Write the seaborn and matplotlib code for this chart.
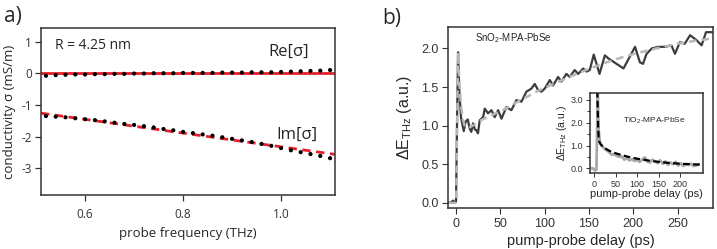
import numpy as np
import pandas as pd
import seaborn as sns
import matplotlib
matplotlib.use("Agg")
from matplotlib import pyplot as plt

# ---- panel a) : conductivity vs probe frequency
freq = [0.52, 0.54, 0.56, 0.58, 0.60, 0.62, 0.64, 0.66, 0.68, 0.70,
        0.72, 0.74, 0.76, 0.78, 0.80, 0.82, 0.84, 0.86, 0.88, 0.90,
        0.92, 0.94, 0.96, 0.98, 1.00, 1.02, 1.04, 1.06, 1.08, 1.10]
re_sigma = [-0.08, -0.06, -0.05, -0.04, -0.04, -0.03, -0.03, -0.02, -0.02, -0.01,
            -0.01, 0.00, 0.00, 0.00, 0.01, 0.01, 0.01, 0.01, 0.02, 0.02,
            0.02, 0.03, 0.03, 0.03, 0.04, 0.05, 0.06, 0.07, 0.08, 0.10]
im_sigma = [-1.35, -1.37, -1.39, -1.42, -1.45, -1.48, -1.52, -1.56, -1.60, -1.63,
            -1.67, -1.71, -1.76, -1.80, -1.85, -1.89, -1.93, -1.97, -2.02, -2.07,
            -2.12, -2.17, -2.23, -2.29, -2.36, -2.43, -2.49, -2.55, -2.61, -2.68]
re_fit_f = [0.51, 1.11]
re_fit = [0.0, 0.0]
im_fit_f = [0.51, 1.11]
im_fit = [-1.26, -2.56]

# ---- panel b) : SnO2-MPA-PbSe transient
t_sno2 = [-8, -5, -3, -1, 0.3, 1.5, 2.6, 4, 6, 9, 11, 13.5, 15.8, 17.5, 19.5, 21.5, 23.3, 25,
          27, 30.8, 32.7, 36.4, 40.2, 43.9, 47.7, 51.5, 57, 62.7, 68.3, 74, 79.6, 85.3, 89,
          92.8, 96.5, 100.3, 106, 109.6, 115.3, 119, 124.7, 128.5, 134, 138, 143.6, 147.4,
          151, 155.5, 162, 168, 172, 189, 196, 202, 207.5, 211, 215, 221, 228, 236, 243,
          247, 252.5, 258, 264, 271, 277, 282, 289]
e_sno2 = [0.00, 0.01, 0.03, 0.00, 0.02, 1.10, 1.95, 1.45, 1.10, 0.93, 1.05, 1.08, 0.96, 0.92,
          1.03, 0.95, 0.94, 0.90, 1.07, 1.11, 1.22, 1.16, 1.20, 1.11, 1.20, 1.09, 1.24, 1.20,
          1.33, 1.31, 1.44, 1.48, 1.54, 1.46, 1.44, 1.48, 1.59, 1.52, 1.63, 1.57, 1.67, 1.63,
          1.72, 1.67, 1.74, 1.70, 1.72, 1.92, 1.67, 1.91, 1.87, 1.74, 1.89, 2.02, 1.82, 1.80,
          1.93, 2.00, 2.02, 2.02, 2.04, 1.93, 2.08, 2.06, 2.17, 2.11, 2.04, 2.21, 2.21]
t_sno2_fit = [-8, 0, 0.5, 2.6, 4, 6, 8, 10, 13, 16, 22, 30, 53, 70, 91, 110, 128, 151,
              170, 189, 208, 226, 250, 270, 290]
e_sno2_fit = [0.00, 0.00, 0.00, 1.95, 1.55, 1.25, 1.08, 1.00, 0.97, 0.98, 1.02, 1.08,
              1.20, 1.31, 1.44, 1.54, 1.63, 1.74, 1.82, 1.89, 1.95, 2.00, 2.06, 2.10, 2.13]

# ---- inset : TiO2-MPA-PbSe transient
t_tio2 = [-8, -3, 2, 5, 6.5, 8, 10, 13, 17, 22, 28, 34, 40, 46, 52, 58, 64, 70, 76, 82, 88,
          94, 100, 106, 112, 118, 124, 130, 136, 142, 148, 154, 160, 166, 172, 178, 184, 190,
          196, 202, 208, 214, 220, 226, 232, 238, 244]
e_tio2 = [0.00, 0.00, -0.10, -0.05, 1.50, 3.40, 1.70, 1.15, 1.00, 0.90, 0.80, 0.72, 0.60,
          0.62, 0.55, 0.50, 0.52, 0.38, 0.45, 0.35, 0.40, 0.32, 0.36, 0.28, 0.38, 0.48, 0.30,
          0.25, 0.38, 0.30, 0.22, 0.35, 0.20, 0.30, 0.15, 0.25, 0.18, 0.28, 0.12, 0.22, 0.10,
          0.18, 0.15, 0.20, 0.10, 0.12, 0.18]
t_tio2_fit = [7, 8, 9, 10, 12, 15, 20, 30, 40, 60, 80, 100, 130, 160, 200, 250]
e_tio2_fit = [3.40, 2.60, 1.80, 1.40, 1.15, 1.05, 0.95, 0.82, 0.72, 0.60, 0.50, 0.42,
              0.33, 0.26, 0.20, 0.16]

sns.set_style("ticks")
plt.rcParams["font.family"] = ["Liberation Sans", "DejaVu Sans"]
plt.rcParams["mathtext.default"] = "regular"
plt.rcParams["axes.edgecolor"] = "#333333"
plt.rcParams["xtick.color"] = "#333333"
plt.rcParams["ytick.color"] = "#333333"

fig = plt.figure(figsize=(7.17, 2.49), dpi=100)
axA = fig.add_axes([0.0572, 0.217, 0.410, 0.671])
axB = fig.add_axes([0.625, 0.1635, 0.3696, 0.729])
axI = fig.add_axes([0.8229, 0.304, 0.1576, 0.321])

lf = ["Open Sans", "DejaVu Sans"]
red = "#e4202a"

# panel a
sns.lineplot(x=re_fit_f, y=re_fit, ax=axA, color=red, lw=2.0, estimator=None, sort=False)
sns.lineplot(x=im_fit_f, y=im_fit, ax=axA, color=red, lw=2.0, estimator=None, sort=False,
             linestyle=(0, (3, 2)))
sns.scatterplot(x=freq, y=re_sigma, ax=axA, color="black", s=9, edgecolor="none", zorder=3)
sns.scatterplot(x=freq, y=im_sigma, ax=axA, color="black", s=9, edgecolor="none", zorder=3)
axA.set_xlim(0.51, 1.11)
axA.set_ylim(-3.84, 1.43)
axA.set_xticks([0.6, 0.8, 1.0])
axA.set_xticklabels(["0.6", "0.8", "1.0"], family=lf, fontsize=8.5)
axA.set_yticks([1, 0, -1, -2, -3])
axA.set_yticklabels(["1", "0", "-1", "-2", "-3"], family=lf, fontsize=8.5)
axA.set_xlabel("probe frequency (THz)", family=lf, fontsize=9.5, labelpad=4)
axA.set_ylabel("conductivity σ (mS/m)", family=lf, fontsize=9.5, labelpad=4)
axA.tick_params(length=4.5, width=0.9, pad=2)
axA.tick_params(axis="x", pad=5)
axA.text(0.539, 0.89, "R = 4.25 nm", family=lf, fontsize=10, va="center")
axA.text(0.975, 0.68, "Re[σ]", family=lf, fontsize=12, va="center")
axA.text(0.99, -1.95, "Im[σ]", family=lf, fontsize=12, va="center")
fig.text(0.006, 0.935, "a)", family=lf, fontsize=15, va="center")

# panel b
sns.lineplot(x=t_sno2, y=e_sno2, ax=axB, color="#3c3c3c", lw=1.6, estimator=None, sort=False)
sns.lineplot(x=t_sno2_fit, y=e_sno2_fit, ax=axB, color="#b8b8b8", lw=1.8, estimator=None,
             sort=False, linestyle=(0, (3, 2)))
axB.set_xlim(-8.6, 290)
axB.set_ylim(-0.07, 2.28)
axB.set_xticks([0, 50, 100, 150, 200, 250])
axB.set_yticks([0.0, 0.5, 1.0, 1.5, 2.0])
axB.set_yticklabels(["0.0", "0.5", "1.0", "1.5", "2.0"])
axB.tick_params(labelsize=9, length=4, width=0.8, pad=3)
axB.set_xlabel("pump-probe delay (ps)", fontsize=10.5, labelpad=3)
axB.set_ylabel(r"$\Delta$E$_{THz}$ (a.u.)", fontsize=11.5, labelpad=5)
axB.text(22, 2.13, r"SnO$_2$-MPA-PbSe", fontsize=7, va="center")
fig.text(0.533, 0.925, "b)", family=lf, fontsize=15, va="center")

# inset
sns.lineplot(x=t_tio2, y=e_tio2, ax=axI, color="#a8a8a8", lw=2.0, estimator=None, sort=False)
sns.lineplot(x=t_tio2_fit, y=e_tio2_fit, ax=axI, color="black", lw=1.6, estimator=None,
             sort=False, linestyle=(0, (3, 1.5)))
axI.set_xlim(-10, 254)
axI.set_ylim(-0.22, 3.29)
axI.set_xticks([0, 50, 100, 150, 200])
axI.set_yticks([0, 1, 2, 3])
axI.set_yticklabels(["0.0", "1.0", "2.0", "3.0"])
axI.set_yticks([0.5, 1.5, 2.5], minor=True)
axI.tick_params(labelsize=6.5, length=3, width=0.7, pad=2)
axI.tick_params(which="minor", length=2, width=0.7)
axI.set_xlabel("pump-probe delay (ps)", fontsize=8, labelpad=0)
axI.set_ylabel(r"$\Delta$E$_{THz}$ (a.u.)", fontsize=7.5, labelpad=1)
axI.text(68, 2.1, r"TiO$_2$-MPA-PbSe", fontsize=6, va="center")

for ax in (axA, axB, axI):
    for sp in ax.spines.values():
        sp.set_linewidth(1.1)
        sp.set_visible(True)

fig.savefig("out.png", dpi=100)
